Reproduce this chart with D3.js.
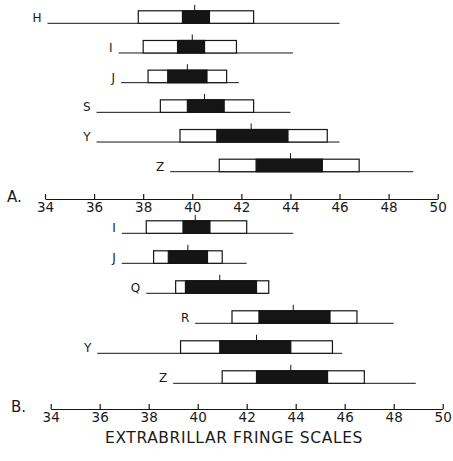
<!DOCTYPE html>
<html>
<head>
<meta charset="utf-8">
<script src="https://cdn.jsdelivr.net/npm/d3@7"></script>
<style>
  html, body { margin: 0; padding: 0; background: #fff; }
  svg { display: block; }
  text { font-family: "DejaVu Sans", sans-serif; fill: #1a1a1a; opacity: 0.999; }
</style>
</head>
<body>
<svg id="chart" width="453" height="461"></svg>
<script>
// Extrabrillar fringe scale counts, panel A
const labelsA   = ["H", "I", "J", "S", "Y", "Z"];
const rangeMinA = [34.1, 37.0, 37.1, 36.1, 36.1, 39.1];
const rangeMaxA = [46.0, 44.1, 41.9, 44.0, 46.0, 49.0];
const sdLowA    = [37.8, 38.0, 38.2, 38.7, 39.5, 41.1];
const sdHighA   = [42.5, 41.8, 41.4, 42.5, 45.5, 46.8];
const seLowA    = [39.6, 39.4, 39.0, 39.8, 41.0, 42.6];
const seHighA   = [40.7, 40.5, 40.6, 41.3, 43.9, 45.3];
const meanA     = [40.1, 40.0, 39.8, 40.5, 42.4, 44.0];

// Panel B
const labelsB   = ["I", "J", "Q", "R", "Y", "Z"];
const rangeMinB = [36.9, 36.9, 37.9, 39.9, 35.9, 39.0];
const rangeMaxB = [43.9, 42.0, 42.9, 48.0, 45.9, 48.9];
const sdLowB    = [37.9, 38.2, 39.1, 41.4, 39.3, 41.0];
const sdHighB   = [42.0, 41.0, 42.9, 46.5, 45.5, 46.8];
const seLowB    = [39.4, 38.8, 39.5, 42.5, 40.9, 42.4];
const seHighB   = [40.5, 40.4, 42.4, 45.4, 43.8, 45.3];
const meanB     = [39.9, 39.6, 40.9, 43.9, 42.4, 43.8];

const tickValues = [34, 36, 38, 40, 42, 44, 46, 48, 50];
const domainX = [34, 50];

const svg = d3.select("#chart");
const ink = "#151515";

function panel(cfg) {
  const x = d3.scaleLinear().domain(domainX).range(cfg.xRange);
  const y = d3.scalePoint().domain(cfg.labels).range(cfg.yRange);
  const boxH = 12.5;
  const g = svg.append("g");

  const rows = cfg.labels.map((lab, i) => ({
    lab, min: cfg.min[i], max: cfg.max[i], sdLo: cfg.sdLo[i], sdHi: cfg.sdHi[i],
    seLo: cfg.seLo[i], seHi: cfg.seHi[i], mean: cfg.mean[i]
  }));

  const row = g.selectAll("g.row").data(rows).join("g").attr("class", "row");

  // range line
  row.append("line")
    .attr("x1", d => x(d.min)).attr("x2", d => x(d.max))
    .attr("y1", d => y(d.lab)).attr("y2", d => y(d.lab))
    .attr("stroke", ink).attr("stroke-width", 1);

  // open box
  row.append("rect")
    .attr("x", d => x(d.sdLo)).attr("width", d => x(d.sdHi) - x(d.sdLo))
    .attr("y", d => y(d.lab) - boxH).attr("height", boxH)
    .attr("fill", "#fff").attr("stroke", ink).attr("stroke-width", 1.2);

  // solid box
  row.append("rect")
    .attr("x", d => x(d.seLo)).attr("width", d => x(d.seHi) - x(d.seLo))
    .attr("y", d => y(d.lab) - boxH).attr("height", boxH)
    .attr("fill", ink).attr("stroke", ink).attr("stroke-width", 1.2);

  // mean mark
  row.append("line")
    .attr("x1", d => x(d.mean)).attr("x2", d => x(d.mean))
    .attr("y1", d => y(d.lab) - boxH - 6).attr("y2", d => y(d.lab) - boxH)
    .attr("stroke", ink).attr("stroke-width", 1);

  // row label
  row.append("text")
    .attr("x", d => x(d.min) - 6).attr("y", d => y(d.lab) - 1)
    .attr("text-anchor", "end")
    .attr("font-size", 12)
    .text(d => d.lab);

  // axis
  const axis = d3.axisBottom(x).tickValues(tickValues)
    .tickSizeInner(-5).tickSizeOuter(0).tickPadding(3)
    .tickFormat(d3.format("d"));
  const ag = g.append("g").attr("transform", `translate(0,${cfg.axisY})`).call(axis);
  ag.select(".domain").attr("stroke", ink).attr("stroke-width", 1.2);
  ag.selectAll(".tick line").attr("stroke", ink).attr("stroke-width", 1.2);
  ag.selectAll(".tick text")
    .attr("font-family", "DejaVu Sans, sans-serif")
    .attr("font-size", 13.5).attr("fill", "#1a1a1a");

  g.append("text")
    .attr("x", cfg.tagX).attr("y", cfg.axisY + 3)
    .attr("font-size", 15)
    .text(cfg.tag);
}

panel({
  labels: labelsA, min: rangeMinA, max: rangeMaxA, sdLo: sdLowA, sdHi: sdHighA,
  seLo: seLowA, seHi: seHighA, mean: meanA,
  xRange: [45, 437.7], yRange: [23.3, 171.7], axisY: 199, tag: "A.", tagX: 7
});

panel({
  labels: labelsB, min: rangeMinB, max: rangeMaxB, sdLo: sdLowB, sdHi: sdHighB,
  seLo: seLowB, seHi: seHighB, mean: meanB,
  xRange: [50.7, 442.7], yRange: [233.3, 383.3], axisY: 409, tag: "B.", tagX: 11
});

svg.append("text")
  .attr("x", 234).attr("y", 443)
  .attr("text-anchor", "middle")
  .attr("font-size", 15.5)
  .attr("letter-spacing", 0.6)
  .text("EXTRABRILLAR FRINGE SCALES");
</script>
</body>
</html>
